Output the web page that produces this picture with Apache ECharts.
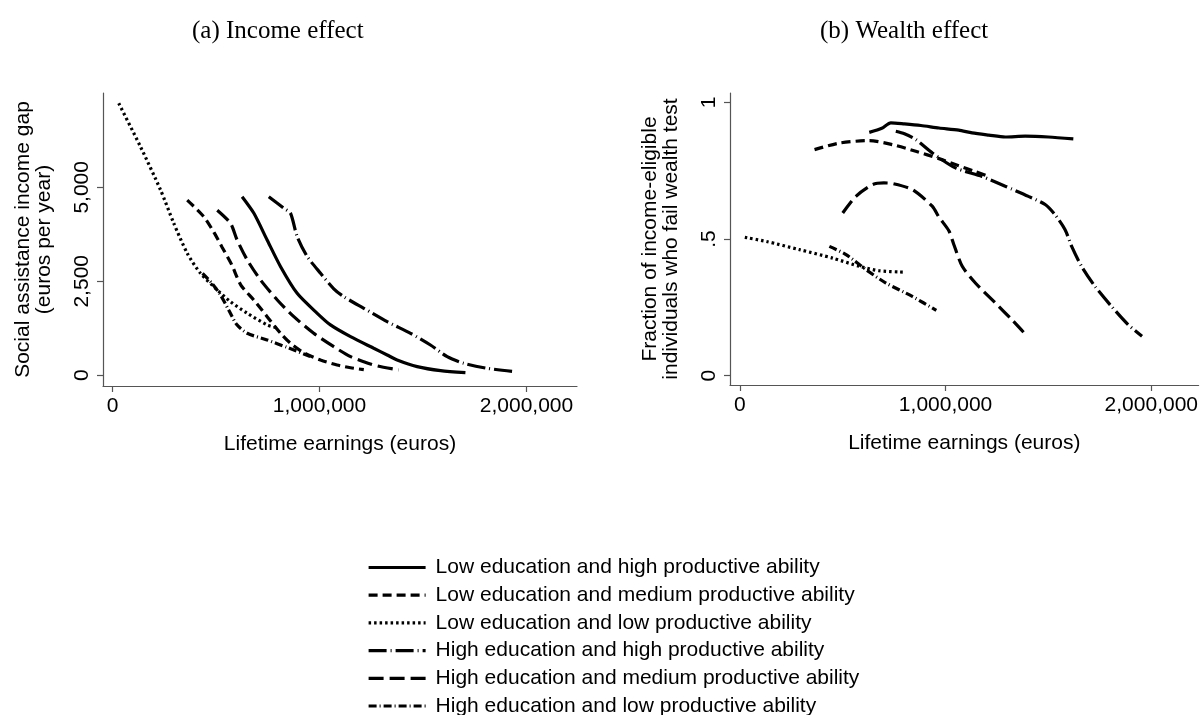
<!DOCTYPE html>
<html>
<head>
<meta charset="utf-8">
<script src="https://cdn.jsdelivr.net/npm/echarts@6/dist/echarts.min.js"></script>
<style>
html,body{margin:0;padding:0;background:#fff;}
#c{width:1201px;height:715px;}
</style>
</head>
<body>
<div id="c"></div>
<script>
// ---- Data (lifetime earnings in euros; income gap in euros/year; fraction) ----
const seriesNames = [
  'Low education and high productive ability',
  'Low education and medium productive ability',
  'Low education and low productive ability',
  'High education and high productive ability',
  'High education and medium productive ability',
  'High education and low productive ability'
];
// Panel (a): income effect
const incLEH_x = [626000,683000,747000,812000,892000,989000,1053000,1150000,1262000,1327000,1375000,1472000,1585000,1705000];
const incLEH_y = [4750,4309,3599,2889,2181,1649,1340,1027,718,540,407,229,122,69];
const incLEM_x = [361000,441000,490000,530000,575000,620000,683000,747000,812000,860000,924000,1005000,1085000,1150000,1214000];
const incLEM_y = [4660,4219,3800,3400,2950,2400,2000,1560,1117,851,600,407,274,200,150];
const incLEL_x = [30000,135000,232000,296000,361000,425000,506000,570000,651000,748000,793000];
const incLEL_y = [7235,6080,4930,4043,3245,2713,2269,1958,1649,1338,1260];
const incHEH_x = [755000,790000,828000,860000,892000,941000,1005000,1069000,1117000,1214000,1327000,1440000,1536000,1617000,1697000,1810000,1940000];
const incHEH_y = [4750,4600,4440,4309,3690,3155,2713,2300,2091,1782,1426,1117,806,495,319,186,96];
const incHEM_x = [506000,570000,602000,651000,715000,796000,876000,972000,1069000,1150000,1214000,1280000,1383000];
const incHEM_y = [4390,4043,3599,3067,2535,2003,1559,1117,761,495,360,247,141];
const incHEL_x = [435000,480000,520000,560000,600000,651000,747000,844000,955000];
const incHEL_y = [2713,2450,2150,1750,1350,1117,939,740,500];
// Panel (b): wealth effect
const wltLEH_x = [629000,690000,734000,800000,880000,968000,1064000,1129000,1210000,1290000,1387000,1500000,1621000];
const wltLEH_y = [0.890,0.905,0.925,0.921,0.915,0.906,0.898,0.888,0.880,0.873,0.876,0.873,0.866];
const wltLEM_x = [363000,484000,629000,742000,855000,968000,1064000,1140000,1214000];
const wltLEM_y = [0.827,0.851,0.860,0.845,0.821,0.794,0.768,0.748,0.728];
const wltLEL_x = [24000,129000,290000,451000,581000,677000,793000];
const wltLEL_y = [0.506,0.491,0.461,0.430,0.400,0.384,0.379];
const wltHEH_x = [758000,800000,855000,935000,1048000,1177000,1290000,1403000,1484000,1532000,1581000,1613000,1661000,1726000,1806000,1887000,1955000];
const wltHEH_y = [0.894,0.885,0.864,0.815,0.760,0.729,0.693,0.656,0.626,0.589,0.534,0.473,0.400,0.327,0.254,0.187,0.144];
const wltHEM_x = [500000,564000,645000,700000,742000,838000,935000,968000,1016000,1040000,1081000,1145000,1242000,1322000,1379000];
const wltHEM_y = [0.595,0.656,0.699,0.705,0.703,0.681,0.620,0.580,0.530,0.480,0.400,0.339,0.266,0.205,0.159];
const wltHEL_x = [435000,516000,613000,710000,838000,955000];
const wltHEL_y = [0.473,0.443,0.388,0.339,0.290,0.239];
// Tick labels
const xTicks = [0,1000000,2000000];
const incTicks = [0,2500,5000];
const wltTicks = [0,0.5,1];
const panelTitles = ['(a) Income effect','(b) Wealth effect'];

// ---- Styles ----
const dashes = ['solid',[9,5],[2.5,3],[18,4,1,4],[15,6],[8,3,1,3]];
const zip = (xs, ys) => xs.map((x,i)=>[x,ys[i]]);
const incData = [zip(incLEH_x,incLEH_y),zip(incLEM_x,incLEM_y),zip(incLEL_x,incLEL_y),zip(incHEH_x,incHEH_y),zip(incHEM_x,incHEM_y),zip(incHEL_x,incHEL_y)];
const wltData = [zip(wltLEH_x,wltLEH_y),zip(wltLEM_x,wltLEM_y),zip(wltLEL_x,wltLEL_y),zip(wltHEH_x,wltHEH_y),zip(wltHEM_x,wltHEM_y),zip(wltHEL_x,wltHEL_y)];

const SANS = 'Liberation Sans, Arial, Helvetica, sans-serif';
const FS = 21;
const fmtNum = v => {
  if (v === 0) return '0';
  if (v > 0 && v < 1) return String(v).replace(/^0/,'');
  return v.toLocaleString('en-US');
};
const axisCommon = {
  axisLine:{show:true,onZero:false,lineStyle:{color:'#555',width:1.2}},
  axisTick:{show:true,length:6,lineStyle:{color:'#555',width:1.2}},
  splitLine:{show:false},
  nameTextStyle:{color:'#000',fontFamily:SANS,fontSize:FS,lineHeight:21}
};
function xAxis(gi,min,max){
  return Object.assign({},axisCommon,{
    type:'value',gridIndex:gi,min:min,max:max,
    name:'Lifetime earnings (euros)',nameLocation:'middle',nameGap:48,
    axisTick:Object.assign({},axisCommon.axisTick,{customValues:xTicks}),
    axisLabel:{customValues:xTicks,formatter:fmtNum,color:'#000',fontFamily:SANS,fontSize:FS,margin:10}
  });
}
function yAxis(gi,min,max,ticks,name,gap){
  return Object.assign({},axisCommon,{
    type:'value',gridIndex:gi,min:min,max:max,
    name:name,nameLocation:'middle',nameGap:gap,nameRotate:90,
    axisTick:Object.assign({},axisCommon.axisTick,{customValues:ticks}),
    axisLabel:{customValues:ticks,formatter:fmtNum,rotate:90,color:'#000',fontFamily:SANS,fontSize:FS,margin:10}
  });
}
const series = [];
[incData,wltData].forEach((set,gi)=>{
  set.forEach((d,i)=>{
    series.push({
      name:seriesNames[i],type:'line',xAxisIndex:gi,yAxisIndex:gi,data:d,
      symbol:'none',smooth:0.25,silent:true,animation:false,
      itemStyle:{color:'#000'},
      lineStyle:{color:'#000',width:3.2,type:dashes[i],cap:'butt'}
    });
  });
});
const chart = echarts.init(document.getElementById('c'),null,{renderer:'canvas'});
chart.setOption({
  backgroundColor:'#fff',
  animation:false,
  title:[
    {text:panelTitles[0],left:187,top:14,textStyle:{fontFamily:'Liberation Serif, Times New Roman, serif',fontWeight:'normal',fontSize:25,color:'#000'}},
    {text:panelTitles[1],left:815,top:14,textStyle:{fontFamily:'Liberation Serif, Times New Roman, serif',fontWeight:'normal',fontSize:25,color:'#000'}}
  ],
  grid:[
    {left:103,top:93,width:474,height:293},
    {left:730,top:93,width:471,height:292}
  ],
  xAxis:[xAxis(0,-46000,2244000),xAxis(1,-48000,2230000)],
  yAxis:[
    yAxis(0,-285,7508,incTicks,'Social assistance income gap\n(euros per year)',48),
    yAxis(1,-0.034,1.034,wltTicks,'Fraction of income-eligible\nindividuals who fail wealth test',48)
  ],
  legend:{
    orient:'vertical',left:367,top:557,width:600,height:220,padding:0,itemWidth:57,itemHeight:14,itemGap:6.7,
    data:seriesNames.slice(),
    itemStyle:{opacity:0},
    lineStyle:{width:3.2},
    textStyle:{color:'#000',fontFamily:SANS,fontSize:FS,lineHeight:20,padding:[0,0,0,5]},
    selectedMode:false
  },
  series:series
});
</script>
</body>
</html>
